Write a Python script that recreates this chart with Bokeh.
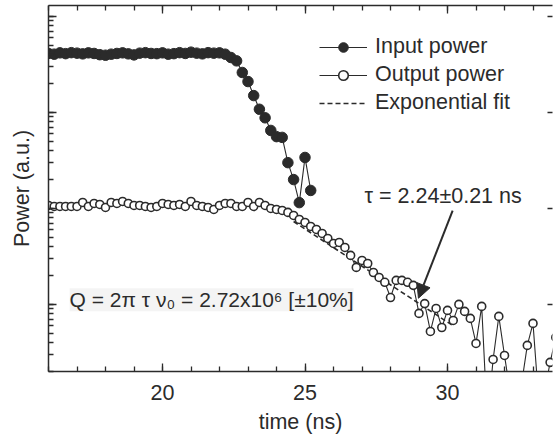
from bokeh.plotting import figure
from bokeh.models import (FixedTicker, LinearAxis, LogAxis, LogTicker, Legend, LegendItem,
                          Label, Arrow, NormalHead, Range1d, CustomJSTickFormatter)
from bokeh.embed import file_html
from bokeh.resources import INLINE

# ---------------- data ----------------
input_time = [16.0, 16.2, 16.4, 16.6, 16.8, 17.0, 17.2, 17.4, 17.6, 17.8,
              18.0, 18.2, 18.4, 18.6, 18.8, 19.0, 19.2, 19.4, 19.6, 19.8,
              20.0, 20.2, 20.4, 20.6, 20.8, 21.0, 21.2, 21.4, 21.6, 21.8,
              22.0, 22.2, 22.4, 22.6, 22.8, 23.0, 23.2, 23.4, 23.6, 23.8,
              24.0, 24.2, 24.4, 24.6, 24.8, 25.0, 25.2]
input_power = [412, 405, 418, 410, 420, 415, 408, 418, 412, 400,
               395, 405, 412, 418, 408, 398, 415, 420, 412, 410,
               418, 405, 410, 420, 412, 425, 415, 408, 420, 415,
               418, 405, 374, 345, 261, 210, 150, 108, 88, 65,
               56, 55, 30, 20, 11.5, 34, 15.4]

output_time = [16.0, 16.2, 16.4, 16.6, 16.8, 17.0, 17.2, 17.4, 17.6, 17.8,
               18.0, 18.2, 18.4, 18.6, 18.8, 19.0, 19.2, 19.4, 19.6, 19.8,
               20.0, 20.2, 20.4, 20.6, 20.8, 21.0, 21.2, 21.4, 21.6, 21.8,
               22.0, 22.2, 22.4, 22.6, 22.8, 23.0, 23.2, 23.4, 23.6, 23.8,
               24.0, 24.2, 24.4, 24.6, 24.8, 25.0, 25.2, 25.4, 25.6, 25.8,
               26.0, 26.2, 26.4, 26.6, 26.8, 27.0, 27.2, 27.4, 27.6, 27.8,
               28.0, 28.2, 28.4, 28.6, 28.8, 29.0, 29.2, 29.4, 29.6, 29.8,
               30.0, 30.2, 30.4, 30.6, 30.8, 31.0, 31.2, 31.4, 31.6, 31.8,
               32.0, 32.2, 32.4, 32.6, 32.8, 33.0, 33.2, 33.4, 33.6, 33.8]
output_power = [10.75, 10.49, 10.49, 10.49, 10.49, 10.49, 11.55, 10.49, 11.27, 11.01,
                10.24, 11.55, 11.27, 11.83, 11.27, 10.75, 10.75, 10.49, 10.24, 10.49,
                11.27, 11.01, 10.75, 11.01, 10.49, 11.83, 10.75, 10.49, 10.24, 9.76,
                10.75, 11.27, 11.27, 10.49, 10.49, 11.55, 10.49, 11.55, 10.75, 10.0,
                9.76, 9.53, 9.09, 8.45, 7.68, 7.15, 6.49, 6.04, 5.49, 4.87,
                4.32, 4.42, 3.92, 3.24, 2.43, 2.87, 2.67, 2.15, 1.91, 1.70,
                1.18, 1.78, 1.78, 1.70, 1.58, 0.806, 1.02, 0.523, 0.908, 0.575,
                0.866, 0.681, 1.0, 0.846, 0.715, 0.392, 0.953, 0.06, 0.267, 0.75,
                0.294, 0.12, 0.08, 0.15, 0.374, 0.634, 0.10, 0.12, 0.249, 0.453]

fit_time = [24.6, 30.2]
fit_power = [7.31, 0.598]

x_major_ticks = [20, 25, 30]
x_minor_ticks = list(range(16, 34))

x_title = "time (ns)"
y_title = "Power (a.u.)"
tau_text = "τ = 2.24±0.21 ns"
q_text = "Q = 2π τ ν₀ = 2.72x10⁶ [±10%]"

FONT = "Liberation Sans"
DARK = "#2b2b2b"
FS = "21.5px"

p = figure(width=555, height=441, output_backend="svg", toolbar_location=None,
           y_axis_type="log", x_range=Range1d(16, 33.684), y_range=Range1d(0.2, 1302),
           min_border_left=48, min_border_right=3, min_border_top=5, min_border_bottom=70,
           x_axis_location=None, y_axis_location=None)
p.grid.visible = False
p.outline_line_color = None
p.background_fill_color = "white"
p.border_fill_color = "white"

xt = FixedTicker(ticks=x_major_ticks, minor_ticks=x_minor_ticks)
blank = CustomJSTickFormatter(code="return ''")

def style_ticks(ax):
    ax.axis_line_color = DARK
    ax.axis_line_width = 1.5
    ax.major_tick_in = 8
    ax.major_tick_out = 0
    ax.minor_tick_in = 5
    ax.minor_tick_out = 0
    ax.major_tick_line_color = DARK
    ax.minor_tick_line_color = DARK
    ax.major_tick_line_width = 1.3
    ax.minor_tick_line_width = 1.3

def hide_labels(ax):
    ax.formatter = blank
    ax.major_label_text_font_size = "1px"
    ax.major_label_standoff = 0

xb = LinearAxis(ticker=xt, axis_label=x_title)
style_ticks(xb)
xb.major_label_text_font = FONT
xb.major_label_text_font_size = FS
xb.major_label_text_color = DARK
xb.major_label_standoff = 13
xb.axis_label_text_font = FONT
xb.axis_label_text_font_size = FS
xb.axis_label_text_font_style = "normal"
xb.axis_label_text_color = DARK
xb.axis_label_standoff = 7
p.add_layout(xb, "below")

xtop = LinearAxis(ticker=xt)
style_ticks(xtop)
hide_labels(xtop)
p.add_layout(xtop, "above")

yl = LogAxis(axis_label=y_title, ticker=LogTicker(num_minor_ticks=10))
style_ticks(yl)
hide_labels(yl)
yl.axis_label_text_font = FONT
yl.axis_label_text_font_size = FS
yl.axis_label_text_font_style = "normal"
yl.axis_label_text_color = DARK
yl.axis_label_standoff = 15
p.add_layout(yl, "left")

yr = LogAxis(ticker=LogTicker(num_minor_ticks=10))
style_ticks(yr)
hide_labels(yr)
yr.axis_line_color = None
yr.major_tick_in = 5
yr.minor_tick_line_color = None
p.add_layout(yr, "right")

# ---------------- glyphs ----------------
fit_r = p.line(fit_time, fit_power, line_color=DARK, line_width=1.6, line_dash="5 3")

out_line = p.line(output_time, output_power, line_color=DARK, line_width=1.1)
out_pts = p.scatter(output_time, output_power, marker="circle", size=8,
                    fill_color="white", line_color=DARK, line_width=1.6)

in_line = p.line(input_time, input_power, line_color=DARK, line_width=1.1)
in_pts = p.scatter(input_time, input_power, marker="circle", size=10.5,
                   fill_color=DARK, line_color=DARK, line_width=1)

legend = Legend(items=[
    LegendItem(label="Input power", renderers=[in_line, in_pts]),
    LegendItem(label="Output power", renderers=[out_line, out_pts]),
    LegendItem(label="Exponential fit", renderers=[fit_r]),
], location=(271, 256))
legend.label_text_font = FONT
legend.label_text_font_size = FS
legend.label_text_color = DARK
legend.glyph_width = 48
legend.glyph_height = 24
legend.label_height = 24
legend.label_standoff = 8
legend.spacing = 3
legend.padding = 0
legend.margin = 0
legend.background_fill_alpha = 0
legend.border_line_color = None
p.add_layout(legend)

q_label = Label(x=16.74, y=1.12, text=q_text, text_font=FONT, text_font_size="21px",
                text_color=DARK, text_baseline="alphabetic",
                background_fill_color="#f4f4f4")
p.add_layout(q_label)

tau_label = Label(x=27.09, y=13.5, text=tau_text, text_font=FONT, text_font_size=FS,
                  text_color=DARK, text_baseline="alphabetic")
p.add_layout(tau_label)

arrow = Arrow(x_start=30.18, y_start=9.5, x_end=28.98, y_end=1.16,
              line_color=DARK, line_width=2,
              end=NormalHead(size=14, fill_color=DARK, line_color=DARK))
p.add_layout(arrow)

open("out.html", "w").write(file_html(p, INLINE))
